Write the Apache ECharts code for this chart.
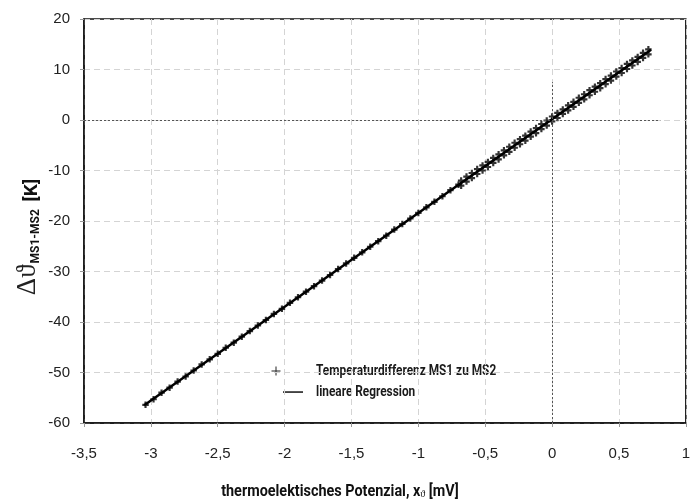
<!DOCTYPE html>
<html>
<head>
<meta charset="utf-8">
<title>Temperaturdifferenz MS1 zu MS2</title>
<script src="https://cdn.jsdelivr.net/npm/echarts@6/dist/echarts.min.js"></script>
<style>
  html, body { margin: 0; padding: 0; background: #fff; }
  #chart { width: 693px; height: 504px; }
</style>
</head>
<body>
<div id="chart"></div>
<script>
// Measured thermoelectric potential (mV) and temperature difference (K)
const potentialSparse = [-3.04, -2.98, -2.92, -2.86, -2.80, -2.74, -2.68, -2.62, -2.56, -2.50,
  -2.44, -2.38, -2.32, -2.26, -2.20, -2.14, -2.08, -2.02, -1.96, -1.90,
  -1.84, -1.78, -1.72, -1.66, -1.60, -1.54, -1.48, -1.42, -1.36, -1.30,
  -1.24, -1.18, -1.12, -1.06, -1.00, -0.94, -0.88, -0.82, -0.76, -0.70];
const deltaSparse = [-56.4, -55.3, -54.0, -53.0, -51.8, -50.8, -49.6, -48.4, -47.4, -46.3,
  -45.1, -44.1, -42.9, -41.8, -40.7, -39.6, -38.4, -37.4, -36.2, -35.1,
  -34.0, -32.9, -31.8, -30.7, -29.5, -28.4, -27.3, -26.2, -25.1, -24.0,
  -22.9, -21.7, -20.6, -19.5, -18.4, -17.3, -16.2, -15.1, -13.9, -12.8];

// Dense measurement range near zero, rising and falling passes
const potentialDense = [-0.68, -0.64, -0.60, -0.56, -0.52, -0.48, -0.44, -0.40, -0.36, -0.32,
  -0.28, -0.24, -0.20, -0.16, -0.12, -0.08, -0.04, 0.00, 0.04, 0.08,
  0.12, 0.16, 0.20, 0.24, 0.28, 0.32, 0.36, 0.40, 0.44, 0.48,
  0.52, 0.56, 0.60, 0.64, 0.68, 0.72];
const deltaRising = [-12.0, -11.2, -10.5, -9.7, -9.0, -8.3, -7.5, -6.8, -6.0, -5.3,
  -4.5, -3.8, -3.1, -2.3, -1.6, -0.8, -0.1, 0.7, 1.4, 2.1,
  2.9, 3.6, 4.4, 5.1, 5.9, 6.6, 7.3, 8.1, 8.8, 9.6,
  10.3, 11.1, 11.8, 12.5, 13.3, 14.0];
const deltaFalling = [-13.0, -12.2, -11.5, -10.7, -10.0, -9.3, -8.5, -7.8, -7.0, -6.3,
  -5.5, -4.8, -4.1, -3.3, -2.6, -1.8, -1.1, -0.3, 0.4, 1.2,
  1.9, 2.6, 3.4, 4.1, 4.9, 5.6, 6.3, 7.1, 7.8, 8.6,
  9.3, 10.1, 10.8, 11.5, 12.3, 13.0];

// Linear regression endpoints
const regressionX = [-3.05, 0.74];
const regressionY = [-56.5, 13.9];

// Zero reference lines
const zeroLineX = [-3.5, 0.81];
const zeroLineY = [-60, 7.5];

const xTicks = { min: -3.5, max: 1, step: 0.5 };
const yTicks = { min: -60, max: 20, step: 10 };

const seriesNames = ['Temperaturdifferenz MS1 zu MS2', 'lineare Regression'];

const plusBold = 'path://M3,0h3v9h-3zM0,3h9v3h-9z';
const condensed = 'Roboto, "Liberation Sans", sans-serif';

const measured = [];
potentialSparse.forEach((x, i) => measured.push([x, deltaSparse[i]]));
potentialDense.forEach((x, i) => measured.push([x, deltaRising[i]]));
potentialDense.forEach((x, i) => measured.push([x, deltaFalling[i]]));

const regression = regressionX.map((x, i) => [x, regressionY[i]]);

const chart = echarts.init(document.getElementById('chart'));

const tickLabel = { fontFamily: '"Liberation Sans", Arial, sans-serif', fontSize: 15, color: '#222' };

// Legend key, narrow bold lettering
const legendText = (text, y) => ({
  type: 'text', x: 316, y: y, scaleX: 0.79,
  style: { text: text, fontFamily: condensed, fontSize: 15, fontWeight: 'bold', fill: '#1a1a1a', verticalAlign: 'middle' }
});

chart.setOption({
  animation: false,
  backgroundColor: '#fff',
  grid: { left: 84, right: 5, top: 19, bottom: 81, show: true, borderColor: '#111', borderWidth: 1.5 },
  xAxis: {
    type: 'value', min: xTicks.min, max: xTicks.max, interval: xTicks.step,
    axisLine: { show: true, onZero: false, lineStyle: { color: '#111', width: 1.5 } },
    axisTick: { show: true, inside: false, length: 4, lineStyle: { color: '#999' } },
    axisLabel: Object.assign({ margin: 23, formatter: v => String(v).replace('.', ',') }, tickLabel),
    splitLine: { show: true, lineStyle: { color: '#d4d4d4', type: [6, 4], width: 1 } }
  },
  yAxis: {
    type: 'value', min: yTicks.min, max: yTicks.max, interval: yTicks.step,
    axisLine: { show: true, onZero: false, lineStyle: { color: '#111', width: 1.5 } },
    axisTick: { show: true, inside: false, length: 4, lineStyle: { color: '#999' } },
    axisLabel: Object.assign({ margin: 14 }, tickLabel),
    splitLine: { show: true, lineStyle: { color: '#d4d4d4', type: [6, 4], width: 1 } }
  },
  series: [
    {
      name: seriesNames[1],
      type: 'line',
      data: regression,
      symbol: 'none',
      z: 2,
      lineStyle: { color: '#000', width: 2.5 },
      itemStyle: { color: '#000' },
      markLine: {
        silent: true, symbol: 'none', label: { show: false },
        lineStyle: { color: '#555', type: [2, 2], width: 1 },
        data: [
          [{ coord: [zeroLineX[0], 0] }, { coord: [zeroLineX[1], 0] }],
          [{ coord: [0, zeroLineY[0]] }, { coord: [0, zeroLineY[1]] }]
        ]
      }
    },
    {
      name: seriesNames[0],
      type: 'scatter',
      data: measured,
      symbol: plusBold,
      symbolSize: 6.5,
      z: 3,
      itemStyle: { color: '#000' }
    }
  ],
  graphic: [
    { type: 'line', shape: { x1: 271.5, y1: 371, x2: 280.5, y2: 371 }, style: { stroke: '#222', lineWidth: 1 } },
    { type: 'line', shape: { x1: 276, y1: 366.5, x2: 276, y2: 375.5 }, style: { stroke: '#222', lineWidth: 1 } },
    legendText(seriesNames[0], 371),
    { type: 'rect', shape: { x: 283, y: 391.3, width: 20, height: 1.5 }, style: { fill: '#111' } },
    legendText(seriesNames[1], 392),
    {
      type: 'text', x: 340, y: 491, scaleX: 0.9,
      style: {
        text: '{t|thermoelektisches Potenzial, x}{s|ϑ}{t| [mV]}',
        align: 'center', verticalAlign: 'middle',
        rich: {
          t: { fontFamily: condensed, fontSize: 16, fontWeight: 'bold', fill: '#111', verticalAlign: 'bottom' },
          s: { fontFamily: '"Liberation Serif", serif', fontSize: 11, fill: '#111', padding: [6, 0, 0, 0], verticalAlign: 'bottom' }
        }
      }
    },
    {
      type: 'text', x: 28, y: 237, rotation: Math.PI / 2,
      style: {
        text: '{g|Δϑ}{s|MS1-MS2}{t| [K]}',
        align: 'center', verticalAlign: 'middle',
        rich: {
          g: { fontFamily: '"Liberation Serif", serif', fontSize: 27, fill: '#222', verticalAlign: 'bottom' },
          s: { fontFamily: condensed, fontSize: 12, fontWeight: 'bold', fill: '#111', padding: [11, 3, 0, 1], verticalAlign: 'bottom' },
          t: { fontFamily: condensed, fontSize: 19, fontWeight: 'bold', fill: '#111', verticalAlign: 'bottom' }
        }
      }
    }
  ]
});
</script>
</body>
</html>
